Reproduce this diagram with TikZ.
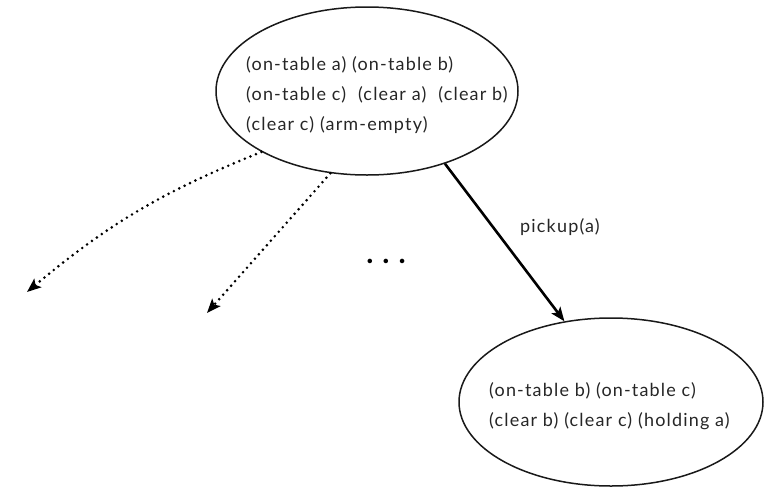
\documentclass[tikz,border=0pt]{standalone}
\usepackage{fontspec}
\setmainfont{Lato}[LetterSpace=6.5]
\usetikzlibrary{arrows.meta,shapes.geometric}
\tikzset{
  state/.style={draw=black!90, line width=1.5pt, ellipse, inner sep=0pt,
    minimum width=#1, minimum height=168pt},
  facts/.style={anchor=west, inner sep=0pt, align=left, text=black!85,
    font=\fontsize{18pt}{30pt}\selectfont},
  actlabel/.style={anchor=west, inner sep=0pt, text=black!85,
    font=\fontsize{18pt}{22pt}\selectfont},
  move/.style={line width=2.6pt, -{Stealth[length=14pt,width=11pt,inset=3pt]}},
  other/.style={line width=2.9pt, dash pattern=on 0pt off 6pt, line cap=round,
    -{Stealth[length=14pt,width=11pt,inset=3pt,line cap=butt]}},
}
\begin{document}
\begin{tikzpicture}[x=1pt,y=-1pt]
  \useasboundingbox (0,0) rectangle (774,488);

  % search states
  \node[state=302pt] (s0) at (367,91) {};
  \node[state=304pt] (s1) at (611,402) {};

  \node[facts] (f0) at (246,95)
    {(on-table a) (on-table b)\\(on-table c)\hspace{12pt}(clear a)\hspace{12pt}(clear b)\\(clear c) (arm-empty)};
  \node[facts] (f1) at (489,406)
    {(on-table b) (on-table c)\\(clear b) (clear c) (holding a)};

  % unexplored successors
  \coordinate (u1) at (27,292);
  \coordinate (u2) at (207,313);
  \draw[other] (s0.210.5) to[bend right=9] (u1);
  \draw[other] (s0.246) -- (u2);

  \node[inner sep=0pt, font=\fontsize{30pt}{30pt}\bfseries] (more) at (386,261)
    {.\hspace{9pt}.\hspace{9pt}.};

  % applied action
  \draw[move] (s0.317.6) -- (s1.120);
  \node[actlabel] (act) at (520,227) {pickup(a)};
\end{tikzpicture}
\end{document}
